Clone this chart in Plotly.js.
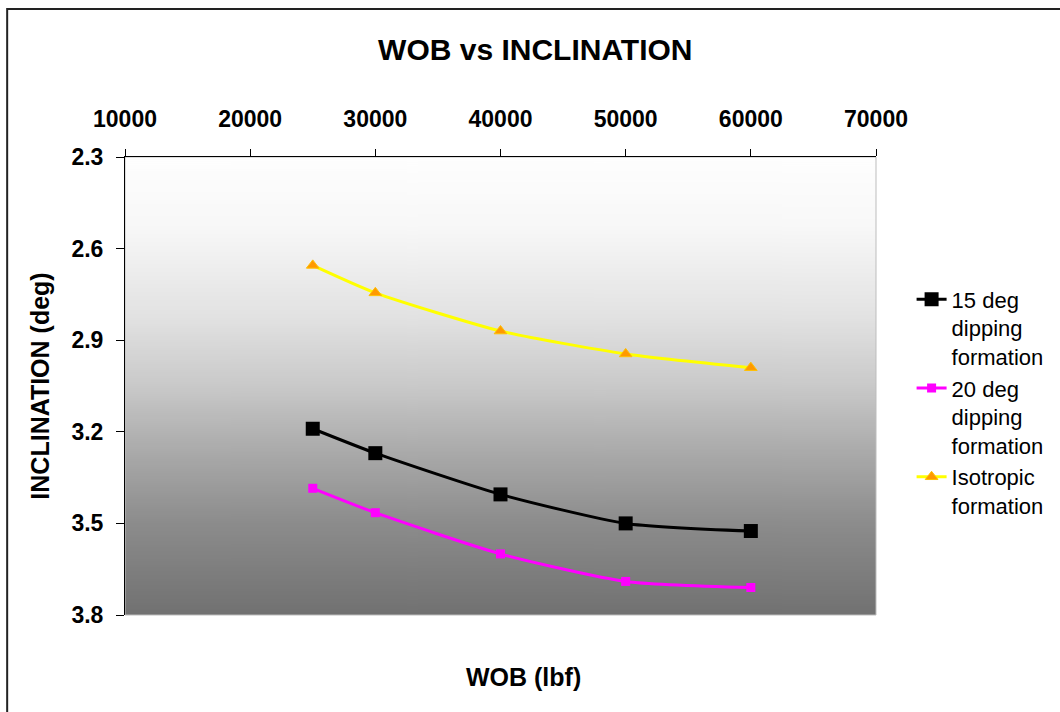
<!DOCTYPE html>
<html>
<head>
<meta charset="utf-8">
<script src="https://cdn.plot.ly/plotly-3.0.1.min.js"></script>
<style>
html,body{margin:0;padding:0;background:#fff;}
#chart{width:1060px;height:712px;}
</style>
</head>
<body>
<div id="chart"></div>
<script>
// Data
var wob = [25000, 30000, 40000, 50000, 60000];
var dip15 = [3.19, 3.27, 3.405, 3.50, 3.525];
var dip20 = [3.385, 3.465, 3.60, 3.69, 3.71];
var isotropic = [2.655, 2.745, 2.87, 2.945, 2.99];
var seriesNames = ['15 deg<br>dipping<br>formation', '20 deg<br>dipping<br>formation', 'Isotropic<br>formation'];
var xTicks = [10000, 20000, 30000, 40000, 50000, 60000, 70000];
var yTicks = [2.3, 2.6, 2.9, 3.2, 3.5, 3.8];

// gradient background image
var cv = document.createElement('canvas');
cv.width = 4; cv.height = 460;
var ctx = cv.getContext('2d');
var g = ctx.createLinearGradient(0, 0, 0, 460);
g.addColorStop(0, '#fefefe');
g.addColorStop(0.15, '#f8f8f8');
g.addColorStop(0.35, '#e2e2e2');
g.addColorStop(0.5, '#c9c9c9');
g.addColorStop(0.65, '#a9a9a9');
g.addColorStop(0.8, '#8c8c8c');
g.addColorStop(1, '#717171');
ctx.fillStyle = g;
ctx.fillRect(0, 0, 4, 460);
var bgURL = cv.toDataURL('image/png');

var traces = [
  {x: wob, y: dip15, name: seriesNames[0], type: 'scatter', mode: 'lines+markers',
   line: {color: '#000000', width: 3, shape: 'spline', smoothing: 0.6},
   marker: {symbol: 'square', size: 14, color: '#000000'}},
  {x: wob, y: dip20, name: seriesNames[1], type: 'scatter', mode: 'lines+markers',
   line: {color: '#ff00ff', width: 3, shape: 'spline', smoothing: 0.6},
   marker: {symbol: 'square', size: 9, color: '#ff00ff'}},
  {x: wob, y: isotropic, name: seriesNames[2], type: 'scatter', mode: 'lines+markers',
   line: {color: '#ffff00', width: 3, shape: 'spline', smoothing: 0.6},
   marker: {symbol: 'triangle-up', size: 11, color: '#ff9900', line: {color: '#ffc000', width: 1}}}
];

var layout = {
  width: 1060, height: 712,
  margin: {l: 125, r: 183, t: 157, b: 97},
  paper_bgcolor: '#ffffff',
  plot_bgcolor: 'rgba(0,0,0,0)',
  font: {family: 'Liberation Sans, Arial, sans-serif', color: '#000'},
  title: {text: '<b>WOB vs INCLINATION</b>', font: {size: 30, color: '#000'},
          x: 0.505, xanchor: 'center', y: 0.93, yanchor: 'middle'},
  xaxis: {
    side: 'top', range: [10000, 70000], tickvals: xTicks,
    ticktext: xTicks.map(function(v){return '<b>' + v + '</b>';}),
    showgrid: false, zeroline: false, showline: true, linecolor: '#000', linewidth: 1,
    ticks: 'outside', ticklen: 7, tickcolor: '#000', tickwidth: 1,
    tickfont: {size: 23, color: '#000'}, ticklabelstandoff: 13
  },
  yaxis: {
    range: [3.8, 2.3], tickvals: yTicks,
    ticktext: yTicks.map(function(v){return '<b>' + v.toFixed(1) + '</b>';}),
    showgrid: false, zeroline: false, showline: true, linecolor: '#000', linewidth: 1,
    ticks: 'outside', ticklen: 8, tickcolor: '#000', tickwidth: 1,
    tickfont: {size: 23, color: '#000'}, ticklabelstandoff: 8,
    title: {text: '<b>INCLINATION (deg)</b>', font: {size: 25, color: '#000'}, standoff: 14}
  },
  annotations: [
    {text: '<b>WOB (lbf)</b>', xref: 'paper', yref: 'paper', x: 0.53, y: (615 - 677) / 458,
     xanchor: 'center', yanchor: 'middle', showarrow: false, font: {size: 25, color: '#000'}}
  ],
  legend: {
    x: 1.046, xanchor: 'left', y: 0.735, yanchor: 'top',
    font: {size: 22, color: '#000'}, valign: 'top',
    bgcolor: 'rgba(0,0,0,0)', tracegroupgap: 0
  },
  images: [{source: bgURL, xref: 'paper', yref: 'paper', x: 0, y: 1, sizex: 1, sizey: 1,
            xanchor: 'left', yanchor: 'top', sizing: 'stretch', layer: 'below'}],
  shapes: [
    {type: 'rect', xref: 'paper', yref: 'paper', x0: 0, x1: 1, y0: 0, y1: 1,
     line: {color: '#bdbdbd', width: 1}, layer: 'below'},
    {type: 'rect', xref: 'paper', yref: 'paper', x0: -0.1569, x1: 1.3, y0: -0.3, y1: 1.3231,
     line: {color: '#222', width: 2}, layer: 'below'}
  ],
  showlegend: true
};

Plotly.newPlot('chart', traces, layout, {displayModeBar: false, staticPlot: true});
</script>
</body>
</html>
